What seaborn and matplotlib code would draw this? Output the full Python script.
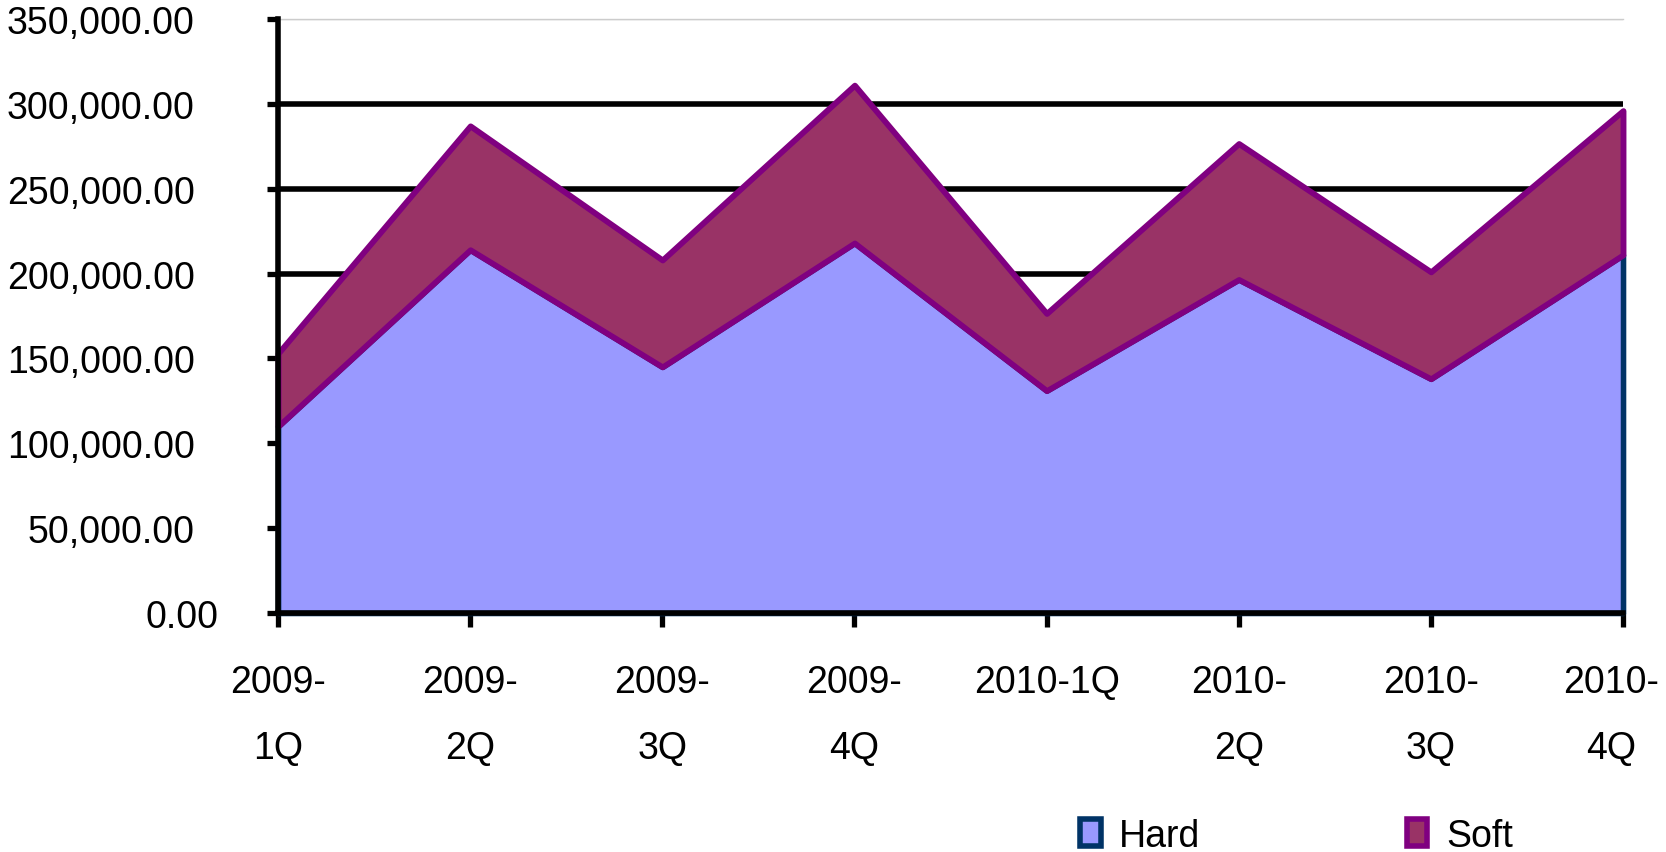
import numpy as np
import matplotlib
matplotlib.use("Agg")
import matplotlib.pyplot as plt
import matplotlib.transforms as mtransforms
from matplotlib.patches import Patch
from matplotlib.ticker import FuncFormatter
import seaborn as sns

quarters = ["2009-\n1Q", "2009-\n2Q", "2009-\n3Q", "2009-\n4Q",
            "2010-1Q", "2010-\n2Q", "2010-\n3Q", "2010-\n4Q"]
hard = [110000, 214000, 145000, 218000, 131000, 196500, 138000, 211000]
total = [153000, 287000, 208000, 311000, 176500, 276600, 201000, 296000]
soft = [t - h for t, h in zip(total, hard)]
y_ticks = [0, 50000, 100000, 150000, 200000, 250000, 300000, 350000]

sns.set_theme(style="white")
plt.rcParams['font.family'] = ['Liberation Sans', 'DejaVu Sans']
plt.rcParams['text.color'] = 'black'
plt.rcParams['xtick.color'] = 'black'
plt.rcParams['ytick.color'] = 'black'

hard_fill, hard_edge = '#9999FF', '#003366'
soft_fill, soft_edge = '#993366', '#800080'

fig = plt.figure(figsize=(16.66, 8.53), dpi=100)
ax = fig.add_axes([0.1669, 0.2802, 0.8073, 0.6964])

x = np.arange(len(quarters))
top = np.array(hard) + np.array(soft)

# aires empilées
ax.fill_between(x, 0, hard, facecolor=hard_fill, edgecolor=hard_edge,
                linewidth=4.0, zorder=2, clip_on=False)
ax.fill_between(x, hard, top, facecolor=soft_fill, edgecolor=soft_edge,
                linewidth=4.2, zorder=3, clip_on=False)

ax.set_xlim(0, len(quarters) - 1)
ax.set_ylim(0, 350000)
ax.set_yticks(y_ticks)
ax.yaxis.set_major_formatter(FuncFormatter(lambda v, p: f"{v:,.2f}"))
ax.set_xticks(x)
ax.set_xticklabels(quarters, linespacing=2.05)

ax.yaxis.grid(True, color='black', linewidth=4.0, zorder=1)
ax.set_axisbelow(True)
ax.yaxis.get_gridlines()[-1].set_color('#cccccc')
ax.yaxis.get_gridlines()[-1].set_linewidth(1.0)

for s in ['left', 'bottom']:
    ax.spines[s].set_color('black')
    ax.spines[s].set_linewidth(4.0)
    ax.spines[s].set_zorder(5)
ax.spines['right'].set_visible(False)
ax.spines['top'].set_color('#cccccc')
ax.spines['top'].set_linewidth(1.0)

ax.tick_params(axis='y', direction='out', length=8, width=3.8,
               left=True, labelsize=27, pad=52)
ax.tick_params(axis='x', direction='out', length=10, width=3.8,
               bottom=True, labelsize=27, pad=27)

# décaler un peu le dernier libellé pour qu'il reste dans l'image
last = ax.get_xticklabels()[-1]
last.set_transform(last.get_transform() +
                   mtransforms.ScaledTranslation(-12 / 100, 0, fig.dpi_scale_trans))
# le libellé 0.00 est plus à droite dans l'original
zero = ax.get_yticklabels()[0]
zero.set_transform(zero.get_transform() +
                   mtransforms.ScaledTranslation(24 / 100, 0, fig.dpi_scale_trans))

handles = [Patch(facecolor=hard_fill, edgecolor=hard_edge, linewidth=4, label='Hard'),
           Patch(facecolor=soft_fill, edgecolor=soft_edge, linewidth=4, label='Soft')]
fig.legend(handles=handles, ncol=2, loc='center left', bbox_to_anchor=(0.628, 0.019),
           frameon=False, fontsize=27, handlelength=0.55, handleheight=0.75,
           handletextpad=0.5, columnspacing=5.5)

fig.savefig('out.png', dpi=100)
